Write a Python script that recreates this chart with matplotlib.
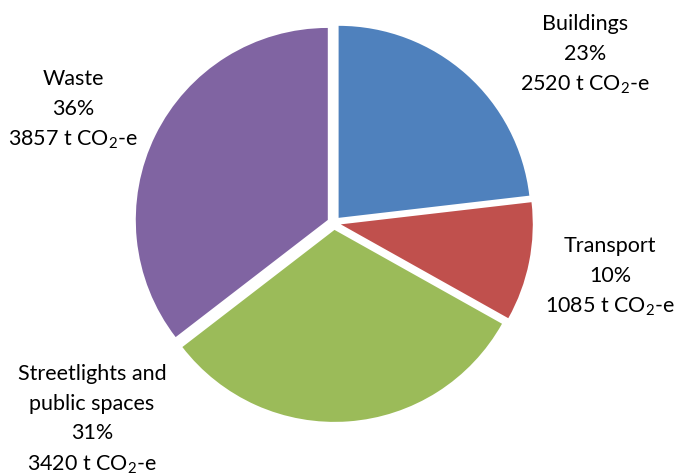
import matplotlib
matplotlib.use('Agg')
import matplotlib.pyplot as plt

plt.rcParams['font.family'] = ['Lato', 'DejaVu Sans']
plt.rcParams['mathtext.default'] = 'regular'

sectors = ['Buildings', 'Transport', 'Streetlights and\npublic spaces', 'Waste']
emissions = [2520, 1085, 3420, 3857]
shares = ['23%', '10%', '31%', '36%']
colors = ['#4F81BD', '#C0504D', '#9BBB59', '#8064A2']

W, H = 680, 475
fig = plt.figure(figsize=(W / 100, H / 100), dpi=100)

# pie centre and radius in pixels
cx, cy, r = 334, 223, 192
ax = fig.add_axes([(cx - r) / W, 1 - (cy + r) / H, 2 * r / W, 2 * r / H])
ax.pie(emissions, colors=colors, startangle=90, counterclock=False,
       explode=[0.036] * len(emissions), radius=1,
       wedgeprops=dict(linewidth=0))
ax.set_xlim(-1, 1)
ax.set_ylim(-1, 1)
ax.set_aspect('equal')
ax.axis('off')

# label centres (pixels)
label_pos = [(585, 55), (610, 277), (92, 420), (73, 110)]
for name, share, val, (x, y) in zip(sectors, shares, emissions, label_pos):
    fig.text(x / W, 1 - y / H, f'{name}\n{share}\n{val} t CO$_2$-e',
             ha='center', va='center', multialignment='center',
             fontsize=15.5, linespacing=1.6, color='black')

fig.savefig('out.png', dpi=100)
